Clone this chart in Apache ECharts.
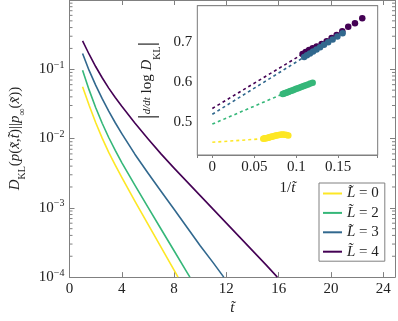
<!DOCTYPE html>
<html>
<head>
<meta charset="utf-8">
<script src="https://cdn.jsdelivr.net/npm/echarts@6/dist/echarts.min.js"></script>
<style>
  html, body { margin: 0; padding: 0; background: #fff; }
  #chart { width: 398px; height: 321px; }
</style>
</head>
<body>
<div id="chart"></div>
<script>
// main plot: D_KL vs t, one curve per L
const tL0 = [1, 1.5, 2, 2.5, 3, 3.5, 4, 5, 6, 7, 8, 8.3]
const dklL0 = [0.0561, 0.0302, 0.01706, 0.01013, 0.00631, 0.004126, 0.002745, 0.001254, 0.000582, 0.0002706, 0.0001257, 0.0001]
const tL2 = [1, 1.5, 2, 2.5, 3, 3.5, 4, 5, 6, 7, 8, 9, 9.21]
const dklL2 = [0.0968, 0.0504, 0.02803, 0.01663, 0.01036, 0.00673, 0.004507, 0.002128, 0.001021, 0.000495, 0.0002398, 0.0001162, 0.0001]
const tL3 = [1, 1.5, 2, 2.5, 3, 3.5, 4, 5, 6, 7, 8, 9, 10, 11, 11.8]
const dklL3 = [0.1687, 0.0962, 0.059, 0.03759, 0.02484, 0.0169, 0.0118, 0.005948, 0.003177, 0.001738, 0.000951, 0.00052, 0.000284, 0.0001604, 0.0001]
const tL4 = [1, 1.5, 2, 2.5, 3, 3.5, 4, 5, 6, 7, 8, 9, 10, 11, 12, 13, 14, 15, 15.9]
const dklL4 = [0.2576, 0.1648, 0.1096, 0.0754, 0.0534, 0.0392, 0.02924, 0.01679, 0.00995, 0.00601, 0.003741, 0.002369, 0.001501, 0.000951, 0.000602, 0.000381, 0.0002413, 0.0001528, 0.0001]

// inset: |d/dt log D_KL| vs 1/t
const invtL0 = [0.0905, 0.0885, 0.0865, 0.0846, 0.0828, 0.0810, 0.0793, 0.0777, 0.0761, 0.0746, 0.0731, 0.0717, 0.0703, 0.0690, 0.0677, 0.0664, 0.0652, 0.0640, 0.0629, 0.0618, 0.0607]
const rateL0 = [0.4655, 0.4668, 0.4675, 0.4678, 0.4678, 0.4675, 0.4670, 0.4663, 0.4655, 0.4647, 0.4638, 0.4630, 0.4622, 0.4614, 0.4607, 0.4600, 0.4594, 0.4588, 0.4583, 0.4578, 0.4574]
const invtL2 = [0.1195, 0.1167, 0.1140, 0.1114, 0.1090, 0.1066, 0.1043, 0.1021, 0.1000, 0.0980, 0.0960, 0.0941, 0.0923, 0.0905, 0.0888, 0.0871, 0.0855, 0.0839]
const rateL2 = [0.5975, 0.5953, 0.5931, 0.5911, 0.5892, 0.5873, 0.5855, 0.5837, 0.5821, 0.5805, 0.5789, 0.5774, 0.5760, 0.5745, 0.5732, 0.5718, 0.5706, 0.5693]
const invtL3 = [0.1552, 0.1490, 0.1433, 0.1380, 0.1330, 0.1284, 0.1241, 0.1200, 0.1163, 0.1127, 0.1094]
const rateL3 = [0.7213, 0.7132, 0.7058, 0.6989, 0.6923, 0.6863, 0.6807, 0.6753, 0.6705, 0.6658, 0.6615]
const invtL4 = [0.1786, 0.1699, 0.1619, 0.1548, 0.1481, 0.1421, 0.1362, 0.1302, 0.1243, 0.1195, 0.1152, 0.1112, 0.1075]
const rateL4 = [0.7585, 0.7460, 0.7375, 0.7260, 0.7170, 0.7090, 0.7010, 0.6940, 0.6880, 0.6835, 0.6790, 0.6740, 0.6690]

// dashed extrapolations to 1/t = 0
const fitL0 = [[0, 0.4485], [0.0607, 0.4574]]
const fitL2 = [[0, 0.494], [0.0839, 0.5693]]
const fitL3 = [[0, 0.5185], [0.1094, 0.6615]]
const fitL4 = [[0, 0.533], [0.1075, 0.669]]

const names = ['L̃ = 0', 'L̃ = 2', 'L̃ = 3', 'L̃ = 4']
const colors = ['#fde725', '#35b779', '#31688e', '#440154']

const xTicksMain = [0, 4, 8, 12, 16, 20, 24]
const xMaxMain = 24.9

// log minor tick positions (2..9 per decade)
let minorVals = []
for (let e = -4; e < 0; e++) {
  for (let k = 2; k <= 9; k++) minorVals.push(k * Math.pow(10, e))
}

const serif = 'Liberation Serif'
const frame = '#808080'
const txt = '#222'

const richTxt = {
  r: { fontFamily: serif, fontSize: 15, color: txt, lineHeight: 18 },
  i: { fontFamily: serif, fontSize: 15, color: txt, fontStyle: 'italic', lineHeight: 18 },
  s: { fontFamily: serif, fontSize: 10, color: txt, verticalAlign: 'bottom', lineHeight: 10, padding: [0, 0, -3, 0] },
  p: { fontFamily: serif, fontSize: 10, color: txt, verticalAlign: 'top', lineHeight: 10 },
  f: { fontFamily: serif, fontSize: 11, color: txt, fontStyle: 'italic', lineHeight: 18 },
  b: { fontFamily: serif, fontSize: 24, color: txt, lineHeight: 24 }
}

function zip(a, b) { return a.map((v, i) => [v, b[i]]) }

let chart = echarts.init(document.getElementById('chart'), null, { renderer: 'canvas' })

const tickStyle = { color: frame, width: 1 }

let option = {
  animation: false,
  backgroundColor: '#fff',
  grid: [
    { left: 64, top: 0, width: 331.7, height: 280, show: false },
    { left: 197.3, top: 5.7, width: 180.4, height: 149.3, show: true, backgroundColor: '#fff', borderColor: frame, borderWidth: 1, z: 3 }
  ],
  xAxis: [
    {
      gridIndex: 0, type: 'value', min: 0, max: xMaxMain, interval: 4, position: 'bottom',
      axisLine: { show: true, onZero: false, lineStyle: tickStyle },
      axisTick: { inside: true, length: 5, lineStyle: tickStyle },
      axisLabel: { margin: 4, fontFamily: serif, fontSize: 15, color: txt,
        formatter: v => xTicksMain.indexOf(v) >= 0 ? String(v) : '' },
      splitLine: { show: false },
      name: '{i|t̃}', nameLocation: 'middle', nameGap: 20,
      nameTextStyle: { rich: richTxt }
    },
    {
      gridIndex: 0, type: 'value', min: 0, max: xMaxMain, interval: 4, position: 'top',
      axisLine: { show: true, onZero: false, lineStyle: tickStyle },
      axisTick: { inside: true, length: 5, lineStyle: tickStyle },
      axisLabel: { show: false }, splitLine: { show: false }
    },
    {
      gridIndex: 1, type: 'value', min: -0.0179, max: 0.197, splitNumber: 4, position: 'bottom',
      axisLine: { show: true, onZero: false, lineStyle: tickStyle },
      axisTick: { inside: false, length: 3, lineStyle: tickStyle },
      axisLabel: { margin: 5, fontFamily: serif, fontSize: 15, color: txt,
        formatter: v => Math.abs(v / 0.05 - Math.round(v / 0.05)) < 1e-6 ? String(+v.toFixed(2)) : '' },
      splitLine: { show: false },
      name: '{r|1/}{i|t̃}', nameLocation: 'middle', nameGap: 24,
      nameTextStyle: { rich: richTxt }
    },
    {
      gridIndex: 1, type: 'value', min: -0.0179, max: 0.197, splitNumber: 4, position: 'top',
      axisLine: { show: true, onZero: false, lineStyle: tickStyle },
      axisTick: { inside: true, length: 4, lineStyle: tickStyle },
      axisLabel: { show: false }, splitLine: { show: false }
    }
  ],
  yAxis: [
    {
      gridIndex: 0, type: 'log', logBase: 10, min: 0.0001, max: 1, position: 'left',
      axisLine: { show: true, onZero: false, lineStyle: tickStyle },
      axisTick: { inside: true, length: 5, lineStyle: tickStyle },
      axisLabel: {
        margin: 5,
        formatter: v => {
          const e = Math.round(Math.log10(v))
          if (e >= 0) return ''
          return '{r|10}{p|−' + (-e) + '}'
        },
        rich: richTxt
      },
      splitLine: { show: false },
      name: '{i|D}{s|KL}{r|(}{i|p}{r|(}{i|x̃}{r|,}{i|t̃}{r|)||}{i|p}{s|∞}{r|(}{i|x̃}{r|))}',
      nameLocation: 'middle', nameGap: 45, nameRotate: 90,
      nameTextStyle: { rich: richTxt }
    },
    {
      gridIndex: 0, type: 'log', logBase: 10, min: 0.0001, max: 1, position: 'right',
      axisLine: { show: true, onZero: false, lineStyle: tickStyle },
      axisTick: { inside: true, length: 5, lineStyle: tickStyle },
      axisLabel: { show: false }, splitLine: { show: false }
    },
    {
      gridIndex: 1, type: 'value', min: 0.4167, max: 0.79, splitNumber: 4, position: 'left',
      axisLine: { show: true, onZero: false, lineStyle: tickStyle },
      axisTick: { inside: true, length: 4, lineStyle: tickStyle },
      axisLabel: { margin: 5, fontFamily: serif, fontSize: 15, color: txt,
        formatter: v => Math.abs(v * 10 - Math.round(v * 10)) < 1e-6 ? v.toFixed(1) : '' },
      splitLine: { show: false },
      name: '{b||}{f|d/dt}{r| log }{i|D}{s|KL}{b||}',
      nameLocation: 'middle', nameGap: 38, nameRotate: 90,
      nameTextStyle: { rich: richTxt }
    },
    {
      gridIndex: 1, type: 'value', min: 0.4167, max: 0.79, splitNumber: 4, position: 'right',
      axisLine: { show: true, onZero: false, lineStyle: tickStyle },
      axisTick: { inside: true, length: 4, lineStyle: tickStyle },
      axisLabel: { show: false }, splitLine: { show: false }
    }
  ],
  legend: {
    data: names,
    orient: 'vertical',
    left: 319, top: 183,
    padding: [3, 6, 2, 4],
    itemGap: 4.4,
    itemWidth: 19, itemHeight: 2,
    icon: 'rect',
    backgroundColor: '#fff',
    borderColor: frame, borderWidth: 1, borderRadius: 0,
    z: 10,
    formatter: n => '{i|L̃}{r| = ' + n.split('= ')[1] + '}',
    textStyle: { rich: richTxt }
  },
  series: []
}

const mainT = [tL0, tL2, tL3, tL4]
const mainD = [dklL0, dklL2, dklL3, dklL4]
const invt = [invtL0, invtL2, invtL3, invtL4]
const rate = [rateL0, rateL2, rateL3, rateL4]
const fits = [fitL0, fitL2, fitL3, fitL4]

// minor ticks on the log axis (left and right edges)
option.series.push({
  type: 'custom', xAxisIndex: 0, yAxisIndex: 0, silent: true, clip: false,
  data: minorVals.map(v => [0, v]),
  renderItem: (params, api) => {
    const v = api.value(1)
    const pL = api.coord([0, v])
    const pR = api.coord([xMaxMain, v])
    return {
      type: 'group',
      children: [
        { type: 'line', shape: { x1: pL[0], y1: pL[1], x2: pL[0] + 3, y2: pL[1] }, style: { stroke: frame, lineWidth: 1 } },
        { type: 'line', shape: { x1: pR[0], y1: pR[1], x2: pR[0] - 3, y2: pR[1] }, style: { stroke: frame, lineWidth: 1 } }
      ]
    }
  }
})

for (let i = 0; i < 4; i++) {
  option.series.push({
    name: names[i], type: 'line', xAxisIndex: 0, yAxisIndex: 0,
    data: zip(mainT[i], mainD[i]),
    smooth: false,
    showSymbol: false, symbol: 'none',
    lineStyle: { color: colors[i], width: 1.6, join: 'round' },
    itemStyle: { color: colors[i] },
    z: 2
  })
}

for (let i = 0; i < 4; i++) {
  option.series.push({
    name: names[i], type: 'line', xAxisIndex: 2, yAxisIndex: 2,
    data: fits[i], showSymbol: false, symbol: 'none',
    lineStyle: { color: colors[i], width: 1.6, type: [3, 3] },
    itemStyle: { color: colors[i] },
    z: 4
  })
}

// purple drawn before blue so blue sits on top
const scatterOrder = [0, 1, 3, 2]
scatterOrder.forEach(i => {
  option.series.push({
    name: names[i], type: 'scatter', xAxisIndex: 2, yAxisIndex: 2,
    data: zip(invt[i], rate[i]),
    symbolSize: 6.5,
    itemStyle: { color: colors[i], opacity: 1 },
    z: 5
  })
})

chart.setOption(option)
</script>
</body>
</html>
